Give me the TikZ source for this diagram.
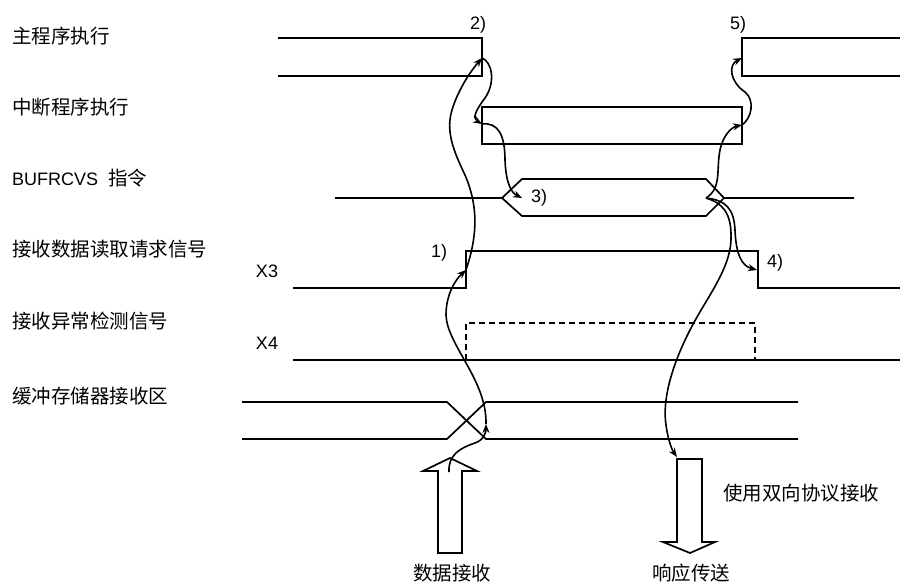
\documentclass[tikz,border=0pt]{standalone}
\usepackage{fontspec}
\setmainfont{Liberation Sans}
\newfontfamily\zhfam{Noto Sans CJK SC}
\newcommand{\zhfont}{\zhfam\fontsize{19.5}{22}\selectfont}
\newcommand{\latinfont}{\fontsize{18}{20}\selectfont}
\usepackage{tikz}
\usetikzlibrary{arrows.meta, positioning}

\begin{document}
\begin{tikzpicture}[
    x=1pt, y=-1pt,
    sig/.style={line width=1.7pt},
    flow/.style={line width=1.6pt, -{Stealth[length=9pt,width=7pt]}},
    hollow/.style={line width=1.7pt, fill=white},
    zh/.style={inner sep=0pt, font=\zhfont},
    rowlbl/.style={zh, anchor=west},
    num/.style={inner sep=0pt, font=\latinfont},
]
\useasboundingbox (0,0) rectangle (900,584);

% row labels
\node[rowlbl] (mainlbl) at (12,36) {主程序执行};
\node[rowlbl] (intlbl) at (12,107) {中断程序执行};
\node[rowlbl, font=\latinfont] (cmdlbl) at (12,178) {BUFRCVS\hspace{10pt}{\zhfont 指令}};
\node[rowlbl] (reqlbl) at (12,249) {接收数据读取请求信号};
\node[rowlbl] (errlbl) at (12,321) {接收异常检测信号};
\node[rowlbl] (buflbl) at (12,396) {缓冲存储器接收区};
\node[num] (x3lbl) at (267,271) {X3};
\node[num] (x4lbl) at (267,343) {X4};

% waveforms
\draw[sig] (278,38) -- (482,38) -- (482,76) -- (278,76);
\draw[sig] (900,38) -- (742,38) -- (742,76) -- (900,76);
\draw[sig] (482,107) rectangle (742,144);
\draw[sig] (335,198) -- (502,198) -- (522,179) -- (706,179) -- (724,198) -- (854,198);
\draw[sig] (502,198) -- (522,216) -- (706,216) -- (724,198);
\draw[sig] (293,288) -- (466,288) -- (466,251) -- (758,251) -- (758,288) -- (900,288);
\draw[sig] (293,360) -- (900,360);
\draw[sig, dash pattern=on 6pt off 4pt] (466,360) -- (466,323) -- (755,323) -- (755,360);
\draw[sig] (242,402) -- (447,402) -- (486,439) -- (798,439);
\draw[sig] (242,439) -- (447,439) -- (486,402) -- (798,402);

% data in / response out
\draw[hollow] (438,553) -- (438,471) -- (423,471) -- (450,458) -- (477,471) -- (462,471) -- (462,553) -- cycle;
\draw[hollow] (677,459) -- (702,459) -- (702,542) -- (715,542) -- (690,553) -- (663,542) -- (677,542) -- cycle;
\node[zh] (rxlbl) at (452,573) {数据接收};
\node[zh] (acklbl) at (691,573) {响应传送};
\node[zh] (protolbl) at (801,493) {使用双向协议接收};

% step numbers
\node[num] (s1) at (439,253) {1)};
\node[num] (s2) at (478,25) {2)};
\node[num] (s3) at (539,198) {3)};
\node[num] (s4) at (775,263) {4)};
\node[num] (s5) at (738,25) {5)};

% event points
\coordinate (rx) at (449,472);
\coordinate (bufx) at (486,424);
\coordinate (x3up) at (466,270);
\coordinate (mainoff) at (482,58);
\coordinate (intin) at (482,124);
\coordinate (cmdin) at (522,198);
\coordinate (cmdout) at (706,198);
\coordinate (intout) at (742,125);
\coordinate (mainon) at (742,58);
\coordinate (x3down) at (757,270);
\coordinate (ack) at (677,457);

% sequence
\draw[flow] (rx) .. controls (448,455) and (460,448) .. (475,443) .. controls (484,440) and (486,432) .. (bufx);
\draw[flow] (bufx) .. controls (487,380) and (447,345) .. (446,315) .. controls (446,295) and (455,280) .. (x3up);
\draw[flow] (x3up) .. controls (476,240) and (480,210) .. (465,175) .. controls (452,148) and (446,130) .. (452,110) .. controls (458,90) and (470,72) .. (mainoff);
\draw[flow] (mainoff) .. controls (492,62) and (496,82) .. (485,98) .. controls (476,110) and (472,118) .. (intin);
\draw[flow] (intin) .. controls (498,122) and (505,135) .. (505,160) .. controls (506,185) and (512,193) .. (cmdin);
\draw[flow] (cmdout) .. controls (722,188) and (716,170) .. (720,150) .. controls (723,135) and (732,127) .. (intout);
\draw[flow] (intout) .. controls (752,118) and (755,100) .. (745,92) .. controls (730,82) and (728,65) .. (mainon);
\draw[flow] (cmdout) .. controls (725,200) and (734,208) .. (735,230) .. controls (736,255) and (742,266) .. (x3down);
\draw[flow] (cmdout) .. controls (722,203) and (732,212) .. (731,240) .. controls (730,270) and (705,300) .. (690,330) .. controls (672,365) and (662,400) .. (666,425) .. controls (668,440) and (672,450) .. (ack);

\end{tikzpicture}
\end{document}
